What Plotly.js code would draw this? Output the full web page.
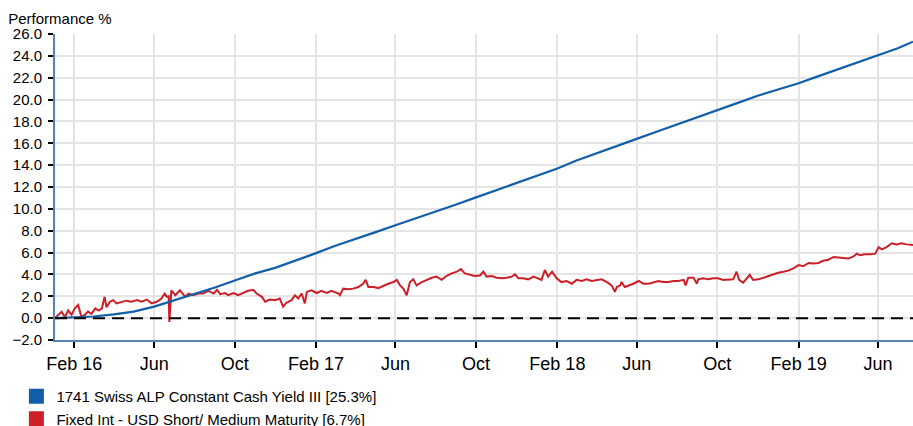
<!DOCTYPE html>
<html>
<head>
<meta charset="utf-8">
<script src="https://cdn.plot.ly/plotly-3.0.1.min.js"></script>
<style>html,body{margin:0;padding:0;background:#fff;}#chart{width:913px;height:426px;}</style>
</head>
<body>
<div id="chart"></div>
<script>
// ---- Data ----
const fundName = "1741 Swiss ALP Constant Cash Yield III [25.3%]";
const benchName = "Fixed Int - USD Short/ Medium Maturity [6.7%]";

const fundDates = ["2016-01-03","2016-02-01","2016-03-01","2016-04-01","2016-05-01","2016-06-01","2016-07-01","2016-08-01","2016-09-01","2016-10-01","2016-11-01","2016-12-01",
  "2017-01-01","2017-02-01","2017-03-01","2017-04-01","2017-05-01","2017-06-01","2017-07-01","2017-08-01","2017-09-01","2017-10-01","2017-11-01","2017-12-01",
  "2018-01-01","2018-02-01","2018-03-01","2018-04-01","2018-05-01","2018-06-01","2018-07-01","2018-08-01","2018-09-01","2018-10-01","2018-11-01","2018-12-01",
  "2019-01-01","2019-02-01","2019-03-01","2019-04-01","2019-05-01","2019-06-01","2019-07-01","2019-07-24"];
const fundValues = [0.0,0.05,0.15,0.35,0.6,1.05,1.6,2.2,2.8,3.45,4.1,4.6,
  5.25,5.95,6.6,7.2,7.85,8.5,9.1,9.75,10.4,11.05,11.7,12.4,
  13.05,13.7,14.4,15.05,15.75,16.4,17.05,17.7,18.35,19.0,19.7,20.35,
  20.9,21.5,22.1,22.75,23.4,24.05,24.7,25.3];

const benchDates = ["2016-01-03","2016-01-08","2016-01-13","2016-01-18","2016-01-23","2016-01-28","2016-02-02","2016-02-07","2016-02-12","2016-02-17","2016-02-22","2016-02-27",
  "2016-03-04","2016-03-09","2016-03-14","2016-03-18","2016-03-21","2016-03-26","2016-03-31","2016-04-05","2016-04-13","2016-04-20","2016-04-28","2016-05-06",
  "2016-05-13","2016-05-21","2016-05-28","2016-06-05","2016-06-12","2016-06-17","2016-06-20","2016-06-23","2016-06-24","2016-06-27","2016-07-03","2016-07-10",
  "2016-07-18","2016-07-23","2016-07-30","2016-08-07","2016-08-14","2016-08-22","2016-08-30","2016-09-04","2016-09-09","2016-09-16","2016-09-21","2016-09-29",
  "2016-10-06","2016-10-14","2016-10-21","2016-10-29","2016-11-03","2016-11-11","2016-11-16","2016-11-23","2016-12-01","2016-12-08","2016-12-13","2016-12-18",
  "2016-12-26","2016-12-31","2017-01-05","2017-01-10","2017-01-15","2017-01-18","2017-01-25","2017-02-02","2017-02-09","2017-02-17","2017-02-24","2017-03-07",
  "2017-03-09","2017-03-14","2017-03-22","2017-03-29","2017-04-06","2017-04-13","2017-04-17","2017-04-21","2017-04-29","2017-05-06","2017-05-14","2017-05-21",
  "2017-05-29","2017-06-03","2017-06-08","2017-06-13","2017-06-18","2017-06-23","2017-06-28","2017-07-03","2017-07-11","2017-07-18","2017-07-26","2017-08-02",
  "2017-08-10","2017-08-17","2017-08-25","2017-09-02","2017-09-08","2017-09-14","2017-09-22","2017-09-29","2017-10-07","2017-10-12","2017-10-17","2017-10-25",
  "2017-11-01","2017-11-09","2017-11-16","2017-11-24","2017-11-29","2017-12-04","2017-12-11","2017-12-19","2017-12-27","2018-01-03","2018-01-08","2018-01-13",
  "2018-01-18","2018-01-24","2018-01-31","2018-02-07","2018-02-15","2018-02-23","2018-03-02","2018-03-10","2018-03-17","2018-03-25","2018-04-02","2018-04-09",
  "2018-04-17","2018-04-24","2018-04-29","2018-05-02","2018-05-07","2018-05-09","2018-05-14","2018-05-19","2018-05-27","2018-06-04","2018-06-11","2018-06-19",
  "2018-06-26","2018-07-04","2018-07-11","2018-07-19","2018-07-27","2018-08-03","2018-08-11","2018-08-14","2018-08-18","2018-08-26","2018-08-31","2018-09-02",
  "2018-09-10","2018-09-17","2018-09-25","2018-10-02","2018-10-10","2018-10-18","2018-10-25","2018-10-30","2018-11-03","2018-11-09","2018-11-14","2018-11-19",
  "2018-11-24","2018-12-02","2018-12-10","2018-12-17","2018-12-25","2019-01-01","2019-01-09","2019-01-16","2019-01-24","2019-02-01","2019-02-08","2019-02-16",
  "2019-02-23","2019-03-03","2019-03-10","2019-03-18","2019-03-26","2019-04-02","2019-04-10","2019-04-17","2019-04-25","2019-04-30","2019-05-05","2019-05-12",
  "2019-05-20","2019-05-28","2019-06-02","2019-06-07","2019-06-14","2019-06-22","2019-06-29","2019-07-07","2019-07-14","2019-07-24"];
const benchValues = [0.0,0.3,0.58,0.1,0.7,0.3,0.9,1.2,0.1,0.3,0.6,0.4,
  0.9,0.7,0.9,1.95,1.0,1.5,1.65,1.35,1.5,1.6,1.5,1.65,
  1.5,1.7,1.35,1.5,1.8,2.25,1.95,2.0,-0.35,2.55,2.1,2.55,
  1.95,2.25,2.1,2.25,2.25,2.5,2.25,2.6,2.2,2.3,2.1,2.3,
  2.1,2.3,2.5,2.6,2.25,1.95,1.5,1.7,1.65,1.8,1.05,1.4,
  1.65,2.1,1.8,2.25,1.35,2.4,2.55,2.3,2.5,2.3,2.5,2.25,
  2.1,2.7,2.65,2.7,2.85,3.15,3.5,2.85,2.85,2.75,3.0,3.15,
  3.3,3.5,3.0,2.7,2.1,3.3,3.55,3.0,3.3,3.5,3.7,3.8,
  3.5,3.85,4.1,4.25,4.5,4.1,3.95,3.85,3.9,4.25,3.8,3.85,
  3.7,3.65,3.7,3.8,4.0,3.65,3.65,3.55,3.8,3.65,3.5,4.4,
  3.8,4.25,3.65,3.3,3.4,3.15,3.5,3.4,3.55,3.4,3.5,3.55,
  3.3,3.0,2.4,2.85,3.0,3.3,2.85,2.95,3.15,3.4,3.15,3.15,
  3.25,3.4,3.3,3.3,3.4,3.4,3.5,3.0,3.7,3.7,3.15,3.55,
  3.65,3.55,3.65,3.65,3.5,3.5,3.55,4.25,3.5,3.25,3.65,3.95,
  3.5,3.55,3.7,3.85,4.0,4.15,4.25,4.35,4.55,4.85,4.75,5.05,
  5.0,5.05,5.25,5.35,5.6,5.55,5.55,5.45,5.65,5.9,5.75,5.85,
  5.85,5.9,6.5,6.3,6.5,6.85,6.75,6.85,6.75,6.7];

const xTickVals = ["2016-02-01","2016-06-01","2016-10-01","2017-02-01","2017-06-01","2017-10-01","2018-02-01","2018-06-01","2018-10-01","2019-02-01","2019-06-01"];
const xTickText = ["Feb 16","Jun","Oct","Feb 17","Jun","Oct","Feb 18","Jun","Oct","Feb 19","Jun"];
const xRange = ["2016-01-03","2019-07-24"];
const yRange = [-2, 26];
const yStep = 2;
const baselineLevel = 0;
const yTitle = "Performance %";

// ---- Styles ----
const BLUE = "#125ea8";
const RED = "#cc1f27";
const AXIS = "#5683b5";
const GRID = "#e4e4e4";
const FONT = "Liberation Sans, Arial, sans-serif";

const traces = [
  {x: benchDates, y: benchValues, type: "scatter", mode: "lines", line: {color: RED, width: 2}, showlegend: false, hoverinfo: "x+y"},
  {x: fundDates, y: fundValues, type: "scatter", mode: "lines", line: {color: BLUE, width: 2.2}, showlegend: false, hoverinfo: "x+y"},
  {x: [null], y: [null], type: "scatter", mode: "markers", name: fundName, marker: {symbol: "square", size: 15, color: BLUE}},
  {x: [null], y: [null], type: "scatter", mode: "markers", name: benchName, marker: {symbol: "square", size: 15, color: RED}}
];

const layout = {
  width: 913, height: 426,
  margin: {l: 55, r: 0, t: 34, b: 86, autoexpand: false},
  paper_bgcolor: "#fff", plot_bgcolor: "#fff",
  font: {family: FONT, color: "#000", size: 15},
  title: {text: yTitle, font: {size: 15, color: "#000"}, xref: "container", x: 0.009, xanchor: "left", yref: "container", y: 0.956, yanchor: "middle"},
  showlegend: true,
  legend: {orientation: "v", x: -0.045, xanchor: "left", y: -0.131, yanchor: "top", font: {size: 15, color: "#000"}, itemsizing: "trace", bgcolor: "rgba(0,0,0,0)"},
  xaxis: {
    type: "date", range: xRange, tickmode: "array", tickvals: xTickVals, ticktext: xTickText,
    showgrid: true, gridcolor: GRID, gridwidth: 2,
    showline: true, linecolor: AXIS, linewidth: 2,
    ticks: "outside", ticklen: 6, tickwidth: 2, tickcolor: "#000",
    tickfont: {size: 18, color: "#000"}, zeroline: false, fixedrange: true
  },
  yaxis: {
    range: yRange, dtick: yStep, tick0: yRange[0], tickformat: ".1f",
    showgrid: true, gridcolor: GRID, gridwidth: 2,
    showline: true, linecolor: AXIS, linewidth: 2,
    ticks: "outside", ticklen: 5, tickwidth: 2, tickcolor: "#000",
    tickfont: {size: 15, color: "#000"}, zeroline: false, fixedrange: true,
    ticklabelstandoff: 3
  },
  shapes: [{type: "line", xref: "paper", x0: 0, x1: 1, yref: "y", y0: baselineLevel, y1: baselineLevel,
            line: {color: "#000", width: 2, dash: "12px,7px"}, layer: "above"}]
};

Plotly.newPlot("chart", traces, layout, {displayModeBar: false, staticPlot: true});
</script>
</body>
</html>
